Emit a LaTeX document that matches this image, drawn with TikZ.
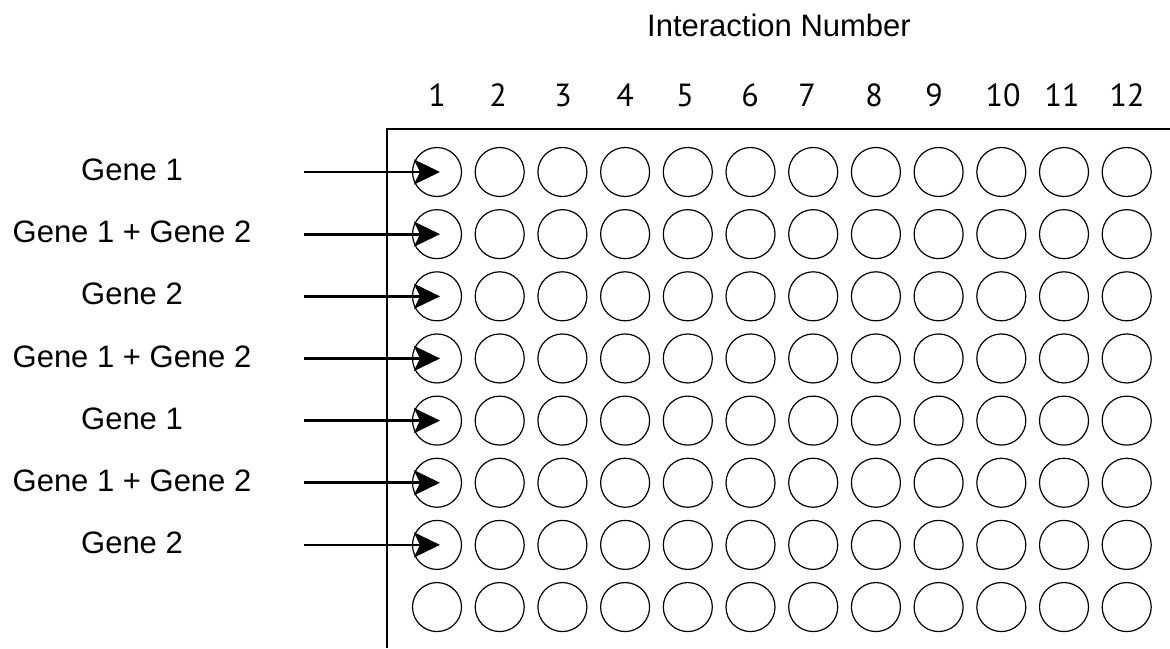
\documentclass[tikz,border=0pt]{standalone}
\usepackage{fontspec}
\setmainfont{Liberation Sans}
\newfontfamily\numfont{PT Sans}
\usetikzlibrary{arrows.meta}
\tikzset{
  well/.style={circle, draw, line width=0.6pt, minimum size=24.5pt, inner sep=0pt},
  lbl/.style={font=\fontsize{15.5}{18}\selectfont, inner sep=0pt, anchor=center},
  num/.style={font=\numfont\fontsize{16}{18}\selectfont, inner sep=0pt, anchor=center},
  arr/.style={line width=1.4pt, -{Stealth[length=13pt, width=12.5pt, inset=3pt]}},
  frame/.style={line width=0.75pt}
}
\begin{document}
\begin{tikzpicture}[x=0.5pt, y=-0.5pt]
\useasboundingbox (0,0) rectangle (1170,648);
% title
\node[lbl] (title) at (779,25) {Interaction Number};
% column numbers
\foreach \n/\x in {1/437,2/498,3/563,4/625,5/685,6/750,7/807,8/874,9/934,10/1003,11/1062,12/1127}
  \node[num] (n\n) at (\x,95) {\n};
% open frame
\coordinate (ftr) at (1170,129);
\coordinate (ftl) at (387,129);
\coordinate (fbl) at (387,648);
\draw[frame] (ftr) -- (ftl) -- (fbl);
% wells
\foreach \i in {1,...,8}
  \foreach \j in {1,...,12}
    \node[well] (c-\i-\j) at ({437+62.7*(\j-1)},{172+62.15*(\i-1)}) {};
% labels and arrows
\foreach \i/\t in {1/Gene 1,2/Gene 1 + Gene 2,3/Gene 2,4/Gene 1 + Gene 2,5/Gene 1,6/Gene 1 + Gene 2,7/Gene 2}{
  \node[lbl] (l\i) at (132,{170+62.15*(\i-1)}) {\t};
  \coordinate (s\i) at (304,{172+62.15*(\i-1)});
  \draw[arr] (s\i) -- ([xshift=1.5pt]c-\i-1.center);
}
\end{tikzpicture}
\end{document}
